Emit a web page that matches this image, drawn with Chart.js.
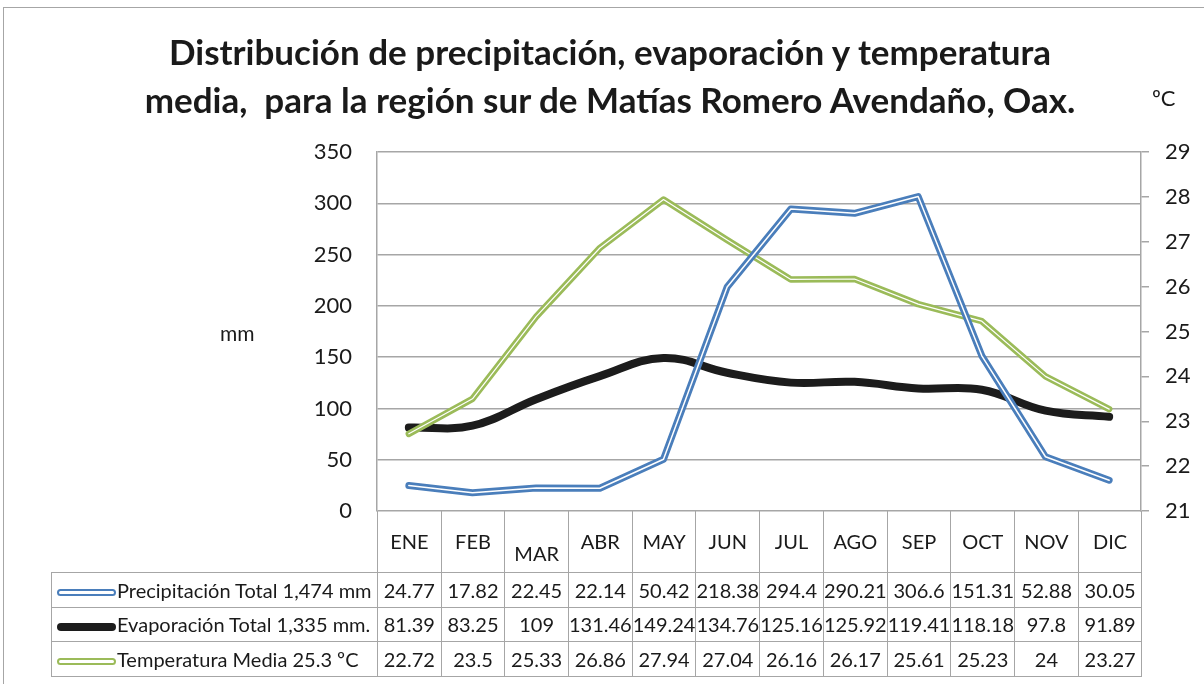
<!DOCTYPE html>
<html>
<head>
<meta charset="utf-8">
<script src="https://cdn.jsdelivr.net/npm/chart.js@4.4.1/dist/chart.umd.min.js"></script>
<style>
    body { margin: 0; background: #fff; font-family: Lato, sans-serif; color: #1a1a1a; }
    #wrap { position: relative; width: 1204px; height: 684px; overflow: hidden; }
    #frame { position: absolute; left: 3px; top: 7px; width: 1400px; height: 900px; border: 1.5px solid #a6a6a6; }
    #chart { position: absolute; left: 0; top: 0; }
    .title { position: absolute; left: 0; width: 1220px; text-align: center; font-weight: bold; font-size: 35px; white-space: nowrap; }
    #unit-left { position: absolute; left: 220px; top: 320px; font-size: 21px; }
    #unit-right { position: absolute; left: 1152px; top: 84px; font-size: 22px; }
    #datatable { position: absolute; left: 51px; top: 511px; border-collapse: collapse; table-layout: fixed; font-size: 20px; }
    #datatable td { border: 1.5px solid #a6a6a6; text-align: center; padding: 0; height: 33.5px; white-space: nowrap; overflow: hidden; }
    #datatable tr.head td { height: 61px; border-top: none; }
    #datatable tr.head td.blank { border-left: none; }
    #datatable td.label { text-align: left; }
    .swatch { display: inline-block; width: 59px; margin: 0 1px 0 5px; vertical-align: middle; border-radius: 4px; box-sizing: border-box; }
</style>
</head>
<body>
<div id="wrap">
    <div id="frame"></div>
    <canvas id="chart" width="1204" height="684"></canvas>
    <div class="title" style="top:30px">Distribución de precipitación, evaporación y temperatura</div>
    <div class="title" style="top:78px">media,&nbsp; para la región sur de Matías Romero Avendaño, Oax.</div>
    <div id="unit-left">mm</div>
    <div id="unit-right">ºC</div>
    <table id="datatable"></table>
</div>
<script>
const meses = ['ENE', 'FEB', 'MAR', 'ABR', 'MAY', 'JUN', 'JUL', 'AGO', 'SEP', 'OCT', 'NOV', 'DIC'];
const precipitacion = [24.77, 17.82, 22.45, 22.14, 50.42, 218.38, 294.4, 290.21, 306.6, 151.31, 52.88, 30.05];
const evaporacion = [81.39, 83.25, 109, 131.46, 149.24, 134.76, 125.16, 125.92, 119.41, 118.18, 97.8, 91.89];
const temperatura = [22.72, 23.5, 25.33, 26.86, 27.94, 27.04, 26.16, 26.17, 25.61, 25.23, 24, 23.27];

const labelPrecip = 'Precipitación Total 1,474 mm';
const labelEvap = 'Evaporación Total 1,335 mm.';
const labelTemp = 'Temperatura Media 25.3 ºC';

const BLUE = '#4a7ebb';
const GREEN = '#9bbb59';
const BLACK = '#1c1c1c';
const GRID = '#a6a6a6';

document.addEventListener('DOMContentLoaded', () => {
    buildTable();
    initializeChart();
});

function initializeChart() {
    const ctx = document.getElementById('chart').getContext('2d');
    const tickFont = { family: 'Lato', size: 22 };

    new Chart(ctx, {
        type: 'line',
        data: {
            labels: meses,
            datasets: [
                // double lines: a wide coloured stroke with a thin white one on top
                { label: labelPrecip, data: precipitacion, yAxisID: 'y', borderColor: BLUE, borderWidth: 7, order: 2 },
                { label: '', data: precipitacion, yAxisID: 'y', borderColor: '#ffffff', borderWidth: 1.5, order: 1 },
                { label: labelEvap, data: evaporacion, yAxisID: 'y', borderColor: BLACK, borderWidth: 8, tension: 0.4, order: 5 },
                { label: labelTemp, data: temperatura, yAxisID: 'y1', borderColor: GREEN, borderWidth: 6.5, order: 4 },
                { label: '', data: temperatura, yAxisID: 'y1', borderColor: '#ffffff', borderWidth: 1.2, order: 3 }
            ]
        },
        options: {
            responsive: false,
            animation: false,
            elements: {
                point: { radius: 0, hoverRadius: 0 },
                line: { fill: false, borderCapStyle: 'round', borderJoinStyle: 'round' }
            },
            layout: { padding: { top: 152, bottom: 173, left: 0, right: 0 } },
            plugins: { legend: { display: false }, tooltip: { enabled: false }, title: { display: false } },
            scales: {
                x: { display: false, offset: true },
                y: {
                    position: 'left',
                    min: 0,
                    max: 350,
                    ticks: { stepSize: 50, padding: 25, color: '#1a1a1a', font: tickFont },
                    grid: { color: GRID, lineWidth: 1.5, drawTicks: false },
                    border: { color: GRID, width: 1.5 },
                    afterFit: s => { s.width = 377; }
                },
                y1: {
                    position: 'right',
                    min: 21,
                    max: 29,
                    ticks: { stepSize: 1, padding: 16, color: '#1a1a1a', font: tickFont },
                    grid: { drawOnChartArea: false, drawTicks: true, tickLength: 8, color: GRID, lineWidth: 1.5 },
                    border: { color: GRID, width: 1.5 },
                    afterFit: s => { s.width = 63; }
                }
            }
        }
    });
}

function swatch(kind) {
    if (kind === 'black') {
        return `<span class="swatch" style="height:8px;background:${BLACK}"></span>`;
    }
    const c = kind === 'blue' ? BLUE : GREEN;
    return `<span class="swatch" style="height:7px;border:2.5px solid ${c};background:#fff"></span>`;
}

function buildTable() {
    const table = document.getElementById('datatable');
    const colW = (1141 - 377) / 12;
    let html = '<colgroup><col style="width:326px">';
    meses.forEach(() => { html += `<col style="width:${colW}px">`; });
    html += '</colgroup>';

    html += '<tr class="head"><td class="blank"></td>';
    meses.forEach(m => {
        // MAR sits lower than the other month names in the original
        const shift = m === 'MAR' ? 11 : -1;
        html += `<td><span style="position:relative;top:${shift}px">${m}</span></td>`;
    });
    html += '</tr>';

    const rows = [
        [swatch('blue'), labelPrecip, precipitacion],
        [swatch('black'), labelEvap, evaporacion],
        [swatch('green'), labelTemp, temperatura]
    ];
    rows.forEach(([sw, label, values]) => {
        html += `<tr><td class="label">${sw}${label}</td>`;
        values.forEach(v => { html += `<td>${v}</td>`; });
        html += '</tr>';
    });
    table.innerHTML = html;
}
</script>
</body>
</html>
